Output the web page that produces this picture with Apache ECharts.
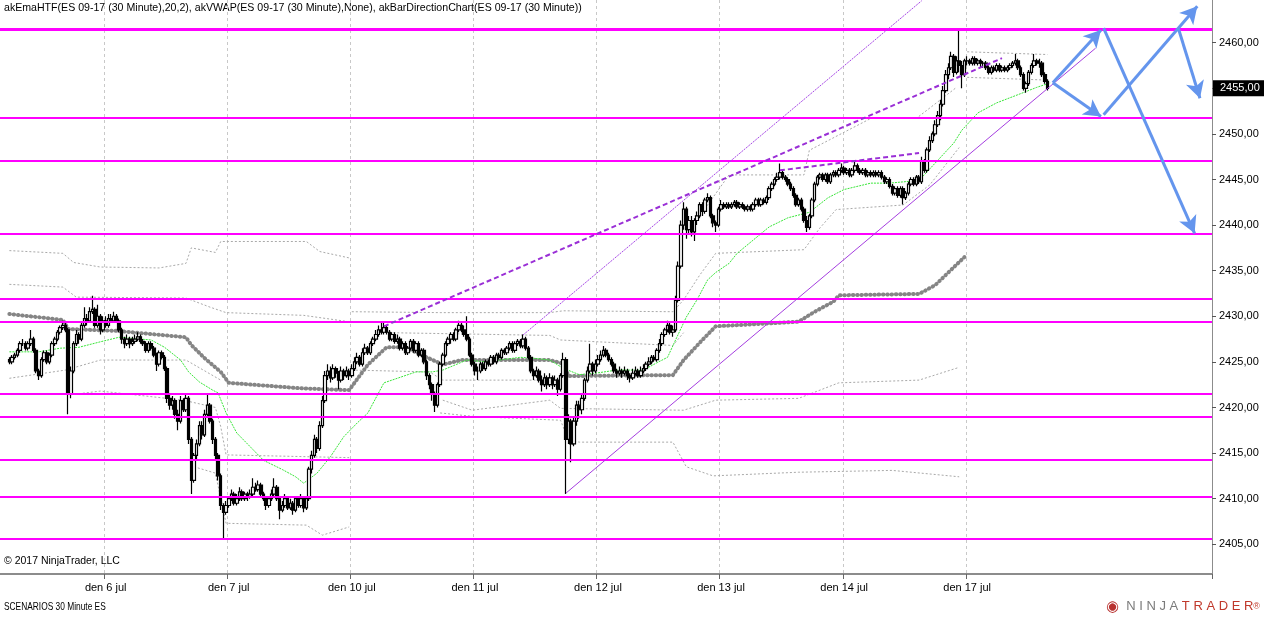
<!DOCTYPE html>
<html><head><meta charset="utf-8">
<script src="https://cdn.jsdelivr.net/npm/echarts/dist/echarts.min.js"></script>
<style>html,body{margin:0;padding:0;background:#fff}#c{width:1264px;height:617px}</style>
</head><body><div id="c"></div>
<script>
const titleText = 'akEmaHTF(ES 09-17 (30 Minute),20,2), akVWAP(ES 09-17 (30 Minute),None), akBarDirectionChart(ES 09-17 (30 Minute))';
const copyrightText = '© 2017 NinjaTrader, LLC';
const footerText = 'SCENARIOS 30 Minute ES';
const dayLabels = ['den 6 jul','den 7 jul','den 10 jul','den 11 jul','den 12 jul','den 13 jul','den 14 jul','den 17 jul'];
const priceTicks = [2405,2410,2415,2420,2425,2430,2435,2440,2445,2450,2455,2460];
const firstOpen = 2425.25;

const c_pre = [2425.0,2425.5,2425.75,2426.25,2427.0,2427.0,2426.5,2427.0,2427.5,2426.25,2424.0,2423.5,2425.25,2426.0,2425.0,2425.75,2427.0,2427.5,2428.25,2428.75,2429.0,2428.5,2421.5,2424.0,2427.0,2428.0,2427.5,2429.0,2429.75,2429.5,2430.5,2430.75,2429.0,2430.0,2428.5,2429.5];
const h_pre = [2425.5,2425.75,2426.0,2426.5,2427.25,2427.5,2427.25,2427.25,2428.5,2427.75,2426.5,2424.25,2425.5,2426.25,2426.25,2426.0,2427.25,2427.75,2428.5,2429.0,2429.5,2429.25,2428.75,2424.5,2427.25,2428.5,2428.25,2429.25,2431.0,2430.25,2431.0,2432.25,2431.0,2431.25,2430.25,2430.0];
const l_pre = [2424.75,2424.75,2425.25,2425.5,2426.0,2426.75,2426.25,2426.25,2426.75,2426.0,2423.75,2423.0,2423.25,2425.0,2424.75,2424.75,2425.5,2426.75,2427.25,2428.0,2428.5,2428.25,2419.25,2421.0,2423.75,2426.75,2427.0,2427.25,2428.75,2429.0,2429.25,2430.25,2428.75,2428.75,2428.0,2428.25];

const c_jul06 = [2429.0,2429.75,2429.5,2430.0,2429.5,2428.5,2427.5,2427.0,2427.5,2427.0,2427.25,2427.5,2427.75,2427.25,2427.0,2426.25,2427.0,2426.5,2425.75,2424.75,2426.0,2425.5,2424.25,2421.0,2420.25,2420.75,2419.25,2418.5,2420.75,2419.75,2421.0,2416.5,2412.0,2414.75,2416.0,2418.0,2417.0,2419.25,2420.25,2418.5,2416.5,2414.75,2412.5,2409.25,2408.5,2409.25];
const h_jul06 = [2430.0,2430.25,2430.25,2430.5,2430.25,2429.75,2428.75,2427.75,2428.0,2427.75,2427.75,2428.0,2428.25,2428.0,2427.5,2427.25,2427.25,2427.25,2426.75,2426.0,2426.25,2426.25,2425.75,2424.5,2421.5,2421.25,2421.0,2419.75,2421.25,2421.0,2421.5,2421.25,2416.75,2415.0,2416.5,2418.5,2418.5,2419.75,2421.5,2420.5,2418.75,2416.75,2415.0,2412.75,2409.5,2409.75];
const l_jul06 = [2428.75,2428.75,2429.25,2429.25,2429.25,2428.25,2427.0,2426.5,2426.75,2426.5,2426.75,2427.0,2427.25,2427.0,2426.75,2426.0,2426.0,2426.25,2425.5,2424.0,2424.5,2425.25,2424.0,2420.5,2419.75,2419.75,2418.75,2417.5,2418.25,2419.5,2419.5,2416.0,2410.5,2411.75,2414.25,2415.75,2416.5,2416.75,2419.0,2418.25,2416.0,2414.25,2412.0,2408.75,2405.5,2408.25];

const c_jul07 = [2410.0,2410.5,2409.5,2410.0,2410.75,2410.0,2410.5,2410.25,2410.5,2411.25,2411.0,2411.5,2410.5,2410.0,2409.25,2410.0,2410.5,2411.25,2410.0,2408.75,2409.25,2410.0,2409.0,2409.5,2408.75,2410.0,2409.25,2410.0,2409.0,2410.0,2413.25,2414.75,2416.5,2415.5,2418.0,2420.75,2423.5,2424.0,2423.25,2424.25,2423.75,2423.0,2424.0,2423.5,2424.0,2423.5];
const h_jul07 = [2410.25,2411.0,2410.75,2410.5,2411.25,2411.0,2410.75,2410.75,2411.0,2412.25,2411.75,2412.0,2411.75,2410.75,2410.25,2410.25,2411.0,2412.25,2411.5,2410.25,2409.75,2410.5,2410.25,2410.0,2409.75,2410.25,2410.25,2410.5,2410.25,2410.25,2413.5,2415.25,2417.0,2416.75,2418.5,2421.25,2424.0,2424.75,2424.5,2424.75,2424.5,2424.0,2424.5,2424.25,2424.5,2424.25];
const l_jul07 = [2409.0,2409.75,2409.25,2409.25,2409.75,2409.75,2409.75,2409.75,2410.0,2410.25,2410.75,2410.75,2410.25,2409.75,2408.75,2409.0,2409.75,2410.25,2409.75,2407.75,2408.5,2409.0,2408.75,2408.75,2408.25,2408.5,2409.0,2409.0,2408.5,2408.75,2409.75,2412.75,2414.5,2415.0,2415.25,2417.75,2420.5,2423.0,2422.75,2423.0,2423.25,2422.0,2422.75,2423.0,2423.25,2423.0];

const c_jul10 = [2424.25,2425.0,2425.5,2424.75,2426.0,2426.5,2426.0,2427.0,2427.5,2428.0,2428.5,2428.25,2428.75,2428.25,2427.5,2428.0,2427.25,2427.5,2426.5,2427.0,2426.0,2426.5,2427.25,2426.25,2427.0,2425.75,2426.25,2425.0,2423.5,2422.5,2421.5,2420.25,2422.5,2424.75,2425.75,2427.0,2427.5,2428.0,2427.5,2428.5,2429.0,2428.5,2428.0,2427.5,2425.75,2424.75];
const h_jul10 = [2424.75,2425.5,2426.0,2425.75,2426.5,2427.0,2426.75,2427.25,2427.75,2428.5,2429.0,2429.25,2429.25,2429.0,2428.5,2428.25,2428.25,2428.0,2427.75,2427.25,2427.25,2426.75,2427.5,2427.5,2427.25,2427.25,2426.5,2426.5,2425.25,2423.75,2422.75,2421.75,2422.75,2425.0,2426.0,2427.25,2427.75,2428.25,2428.25,2428.75,2429.5,2429.25,2429.0,2430.0,2427.75,2426.0];
const l_jul10 = [2423.25,2424.0,2424.75,2424.5,2424.5,2425.75,2425.75,2425.75,2426.75,2427.25,2427.75,2428.0,2428.0,2428.0,2427.25,2427.25,2427.0,2427.0,2426.25,2426.25,2425.75,2425.75,2426.25,2426.0,2426.0,2425.5,2425.5,2424.75,2423.0,2422.0,2420.75,2419.5,2420.0,2422.25,2424.5,2425.5,2426.75,2427.0,2427.25,2427.25,2428.25,2428.25,2427.75,2427.25,2425.5,2424.5];

const c_jul11 = [2424.0,2424.0,2424.75,2424.25,2425.0,2424.75,2425.5,2425.0,2425.75,2425.5,2426.25,2426.0,2426.5,2427.0,2426.25,2427.0,2427.25,2426.75,2427.5,2426.5,2425.5,2424.0,2423.5,2424.0,2423.0,2422.5,2423.25,2422.5,2423.25,2422.5,2423.0,2422.0,2423.5,2425.25,2416.5,2418.5,2416.0,2418.5,2420.25,2419.75,2421.0,2423.0,2424.0,2424.75,2424.0,2424.75];
const h_jul11 = [2425.0,2424.5,2425.0,2425.0,2425.25,2425.25,2425.75,2425.75,2426.0,2426.0,2426.5,2426.5,2426.75,2427.25,2427.25,2427.25,2427.5,2427.5,2428.0,2427.75,2426.75,2425.75,2424.25,2424.5,2424.25,2423.5,2423.75,2423.5,2423.75,2423.5,2423.5,2423.25,2423.75,2426.0,2425.5,2419.25,2418.75,2419.0,2420.75,2420.75,2421.5,2423.25,2424.5,2427.0,2425.0,2425.25];
const l_jul11 = [2423.5,2423.0,2423.75,2424.0,2424.0,2424.5,2424.5,2424.75,2424.75,2425.25,2425.25,2425.75,2425.75,2426.25,2426.0,2426.0,2426.75,2426.5,2426.5,2426.25,2425.25,2423.75,2423.0,2423.25,2422.75,2421.75,2422.25,2422.0,2422.25,2422.0,2422.25,2421.25,2421.75,2423.25,2410.5,2416.0,2414.0,2415.75,2418.0,2418.75,2419.25,2420.75,2422.75,2423.75,2423.5,2423.75];

const c_jul12 = [2425.25,2425.75,2426.25,2425.75,2425.25,2424.75,2424.0,2423.75,2424.0,2423.75,2424.0,2423.5,2423.25,2423.75,2424.0,2423.5,2424.0,2424.25,2424.75,2425.0,2425.5,2425.25,2426.25,2427.0,2428.0,2428.5,2429.0,2428.25,2428.5,2431.75,2435.5,2440.0,2441.75,2439.5,2440.5,2439.25,2440.5,2441.0,2442.25,2441.5,2442.75,2443.0,2441.0,2440.25,2440.0,2441.75];
const h_jul12 = [2425.75,2426.25,2426.75,2426.5,2426.0,2425.5,2425.0,2424.25,2424.5,2424.25,2424.5,2424.25,2423.75,2424.25,2424.5,2424.25,2424.5,2424.75,2425.0,2425.5,2425.75,2425.75,2426.5,2427.5,2428.25,2428.75,2429.5,2429.25,2429.0,2432.25,2436.0,2440.5,2442.5,2442.0,2441.0,2441.0,2440.75,2441.5,2442.5,2442.5,2443.0,2443.5,2443.25,2441.25,2440.5,2442.0];
const l_jul12 = [2424.5,2425.0,2425.5,2425.5,2425.0,2424.5,2423.75,2423.25,2423.5,2423.25,2423.5,2423.0,2422.75,2423.0,2423.5,2423.25,2423.25,2423.75,2424.0,2424.5,2424.75,2425.0,2425.0,2426.0,2426.75,2427.75,2428.25,2428.0,2427.75,2428.25,2431.5,2435.25,2439.5,2438.5,2439.0,2438.75,2438.25,2440.0,2440.75,2441.0,2441.25,2442.5,2440.75,2439.75,2439.25,2439.75];

const c_jul13 = [2442.25,2442.0,2442.25,2442.0,2442.25,2442.5,2442.0,2442.25,2442.0,2441.75,2442.0,2441.75,2442.25,2442.75,2442.25,2442.75,2442.5,2443.0,2444.0,2444.5,2445.0,2445.25,2445.75,2445.25,2445.0,2444.5,2444.0,2443.25,2442.25,2442.75,2441.75,2440.5,2439.75,2441.0,2442.75,2444.5,2445.25,2445.5,2445.0,2445.5,2444.75,2445.5,2445.75,2445.5,2446.0,2446.25];
const h_jul13 = [2442.75,2442.5,2442.5,2442.5,2442.5,2442.75,2442.75,2442.5,2442.5,2442.25,2442.25,2442.25,2442.5,2443.0,2443.0,2443.0,2443.0,2443.25,2444.25,2444.75,2445.25,2445.75,2446.75,2446.0,2445.5,2445.25,2444.75,2444.25,2443.5,2443.0,2443.0,2442.0,2441.0,2441.25,2443.0,2444.75,2445.5,2445.75,2445.75,2445.75,2445.75,2445.75,2446.0,2446.0,2446.25,2446.75];
const l_jul13 = [2441.5,2441.75,2441.75,2441.75,2441.75,2442.0,2441.75,2441.75,2441.75,2441.5,2441.5,2441.5,2441.5,2442.0,2442.0,2442.0,2442.25,2442.25,2442.75,2443.75,2444.25,2444.75,2445.0,2445.0,2444.75,2444.25,2443.75,2443.0,2442.0,2442.0,2441.5,2440.25,2439.25,2439.5,2440.75,2442.5,2444.25,2445.0,2444.75,2444.75,2444.5,2444.5,2445.25,2445.25,2445.25,2445.75];

const c_jul14 = [2445.75,2446.0,2445.5,2446.0,2446.5,2446.0,2445.75,2446.0,2445.5,2445.75,2445.5,2445.75,2445.5,2445.75,2445.25,2444.75,2445.0,2444.25,2443.5,2444.0,2443.25,2444.0,2443.0,2443.5,2444.5,2445.0,2444.5,2445.25,2444.75,2447.0,2446.0,2448.25,2449.25,2450.0,2451.0,2452.0,2453.25,2454.75,2456.5,2457.25,2458.5,2456.75,2458.0,2457.5,2456.5,2458.0];
const h_jul14 = [2446.5,2446.25,2446.25,2446.25,2447.0,2446.75,2446.25,2446.25,2446.25,2446.0,2446.0,2446.0,2446.0,2446.0,2446.0,2445.5,2445.25,2445.25,2444.5,2444.25,2444.25,2444.25,2444.25,2443.75,2444.75,2445.25,2445.25,2445.5,2445.5,2447.5,2447.25,2448.5,2449.75,2450.25,2451.5,2452.5,2453.75,2455.25,2457.0,2457.75,2459.0,2458.75,2458.5,2461.5,2458.0,2458.25];
const l_jul14 = [2445.5,2445.5,2445.25,2445.25,2445.75,2445.75,2445.5,2445.5,2445.25,2445.25,2445.25,2445.25,2445.25,2445.25,2445.0,2444.5,2444.5,2444.0,2443.25,2443.25,2443.0,2443.0,2442.25,2442.75,2443.25,2444.25,2444.25,2444.25,2444.5,2444.5,2445.75,2445.75,2448.0,2449.0,2449.75,2450.75,2451.5,2453.0,2454.5,2456.0,2457.0,2456.25,2456.5,2456.75,2455.0,2456.25];

const c_jul17 = [2458.0,2457.75,2458.25,2457.75,2458.0,2457.75,2457.75,2457.25,2456.75,2457.25,2457.0,2457.5,2457.0,2457.25,2457.0,2457.25,2457.5,2457.75,2458.0,2457.25,2456.5,2455.0,2455.5,2456.75,2457.5,2458.0,2457.75,2457.75,2456.5,2455.75,2455.0];
const h_jul17 = [2458.5,2458.25,2458.5,2458.5,2458.25,2458.25,2458.0,2458.0,2457.5,2457.5,2457.5,2457.75,2457.75,2457.5,2457.5,2457.5,2457.75,2458.0,2458.75,2458.25,2457.5,2456.75,2455.75,2457.0,2457.75,2458.75,2458.25,2458.25,2458.0,2456.75,2456.0];
const l_jul17 = [2457.5,2457.5,2457.5,2457.5,2457.5,2457.25,2457.25,2457.0,2456.5,2456.5,2456.75,2456.75,2456.75,2456.75,2456.75,2456.75,2457.0,2457.25,2457.5,2457.0,2456.25,2454.75,2454.5,2455.25,2456.5,2457.25,2457.5,2457.25,2456.25,2455.5,2454.75];

// indicator traces: [bar index, price]
const emaLine = [[3,2426.1],[14,2426.1],[22,2426.5],[29,2426.6],[37,2427.2],[44,2427.7],[48,2427.6],[56,2427.4],[61,2426.6],[67,2425.2],[70,2423.9],[74,2422.8],[79,2421.9],[81,2421.6],[84,2419.4],[88,2417.2],[93,2415.7],[98,2414.2],[105,2413.2],[110,2412.4],[113,2411.7],[118,2412.8],[123,2414.6],[128,2416.8],[133,2418.3],[137,2419.4],[143,2422.7],[155,2423.9],[161,2423.9],[165,2424.1],[174,2425.2],[181,2425.0],[186,2425.2],[194,2425.5],[199,2425.4],[205,2425.2],[210,2424.3],[216,2423.6],[223,2423.8],[230,2424.1],[240,2424.1],[245,2424.9],[249,2425.5],[252,2427.4],[256,2429.9],[260,2431.8],[264,2434.0],[267,2434.8],[272,2435.8],[275,2436.9],[287,2439.8],[294,2440.8],[302,2441.4],[309,2443.0],[315,2443.9],[325,2444.6],[332,2444.6],[343,2444.9],[350,2447.1],[356,2449.0],[359,2450.4],[365,2452.3],[372,2453.4],[380,2454.3],[387,2455.1],[392,2455.6]];
const htfEma = [[3,2430.25],[23,2429.6],[25,2428.6],[43,2428.4],[69,2427.7],[71,2426.85],[76,2425.4],[82,2423.9],[85,2422.7],[112,2422.1],[130,2421.9],[137,2424.7],[144,2426.6],[151,2426.6],[159,2425.5],[165,2424.7],[172,2425.2],[205,2425.2],[210,2424.8],[212,2423.45],[251,2423.55],[255,2425.2],[262,2427.4],[267,2428.9],[298,2429.4],[304,2430.5],[311,2431.6],[313,2432.3],[343,2432.45],[349,2433.4],[355,2435.1],[360,2436.5]];
const band1 = [[3,2437.2],[23,2436.9],[27,2435.9],[37,2435.4],[59,2435.3],[69,2435.8],[71,2437.5],[80,2437.0],[82,2438.2],[114,2438.2],[119,2437.1],[130,2436.4]];
const band2 = [[3,2433.5],[23,2433.2],[28,2432.1],[69,2432.0],[78,2431.0],[84,2430.4],[113,2430.1],[130,2429.4]];
const band3 = [[3,2423.2],[24,2424.1],[37,2425.2],[69,2425.2],[82,2423.0]];
const band4 = [[26,2421.4],[37,2421.8],[68,2420.8],[80,2420.0],[82,2417.9],[84,2414.8],[130,2414.5]];
const band5 = [[72,2413.5],[80,2412.8],[84,2407.3],[114,2407.1],[120,2406.0],[130,2406.9]];
const band6 = [[131,2430.5],[164,2430.4],[205,2430.4],[210,2430.6],[251,2430.5],[255,2431.8],[261,2434.5],[267,2436.9],[300,2437.3],[306,2439.7],[312,2441.7],[337,2442.2],[347,2444.4],[358,2448.5]];
const band7 = [[145,2428.2],[205,2427.9],[209,2427.4],[251,2426.8],[255,2428.2]];
const band8 = [[131,2424.1],[160,2423.9],[165,2423.0],[205,2423.0]];
const band9 = [[165,2420.8],[176,2419.7],[205,2420.8],[209,2419.9],[255,2419.7],[267,2420.8],[298,2421.0],[313,2422.7],[343,2423.0],[358,2424.4]];
const band10 = [[164,2419.4],[177,2419.0],[209,2418.6],[212,2416.4],[216,2416.2],[251,2416.2],[256,2413.5],[266,2412.5],[298,2412.9],[333,2413.1],[358,2412.4]];
const band11 = [[262,2441.4],[272,2445.5],[300,2445.5],[302,2448.2],[325,2451.7],[342,2451.7],[357,2455.1]];
const band12 = [[361,2459.0],[391,2458.7]];
const band13 = [[361,2456.2],[391,2455.9]];

// drawings
const levels = [2461.45,2451.75,2447.1,2439.0,2431.9,2429.4,2421.5,2419.0,2414.25,2410.2,2405.65];
const channelLow = [[211,2410.6],[409,2459.4]];
const channelHigh = [[195,2427.95],[344,2464.6]];
const dashLong = [[143,2428.9],[374,2458.3]];
const dashShort = [[291,2446.0],[343,2447.9]];
const arrows = [
  [[393,2455.6],[411,2461.4]],
  [[393,2455.6],[411,2451.9]],
  [[412,2452.1],[447,2464.0]],
  [[412,2461.6],[446,2439.1]],
  [[440,2461.5],[448,2453.9]]
];

const LEAD = 3, TOTAL = 453;
const segments = [
  {label:'pre', c:c_pre, h:h_pre, l:l_pre},
  {label:dayLabels[0], c:c_jul06, h:h_jul06, l:l_jul06},
  {label:dayLabels[1], c:c_jul07, h:h_jul07, l:l_jul07},
  {label:dayLabels[2], c:c_jul10, h:h_jul10, l:l_jul10},
  {label:dayLabels[3], c:c_jul11, h:h_jul11, l:l_jul11},
  {label:dayLabels[4], c:c_jul12, h:h_jul12, l:l_jul12},
  {label:dayLabels[5], c:c_jul13, h:h_jul13, l:l_jul13},
  {label:dayLabels[6], c:c_jul14, h:h_jul14, l:l_jul14},
  {label:dayLabels[7], c:c_jul17, h:h_jul17, l:l_jul17}
];
const cats = [];
const candles = [];
for (let k = 0; k < LEAD; k++) cats.push('lead#' + k);
let prev = firstOpen;
segments.forEach(s => {
  s.c.forEach((c, j) => {
    const idx = cats.length;
    cats.push(s.label + '#' + j);
    const o = prev;
    const hi = Math.max(s.h[j], o, c), lo = Math.min(s.l[j], o, c);
    candles.push([idx, o, c, lo, hi]);
    prev = c;
  });
});
while (cats.length < TOTAL) cats.push('pad#' + cats.length);
const lastClose = prev;

const FONT = "'Liberation Sans', Arial, sans-serif";
const isDayStart = (i, v) => v.indexOf('den') === 0 && /#0$/.test(v);
const fmt = v => v.toFixed(2).replace('.', ',');

function bandSeries(d) {
  return {type:'line', data:d, showSymbol:false, silent:true, z:2,
    lineStyle:{color:'#a9a9a9', width:1, type:[2,2]}};
}
const purple = '#a53ee0';
const chart = echarts.init(document.getElementById('c'), null, {renderer:'canvas'});
chart.setOption({
  animation:false,
  backgroundColor:'#ffffff',
  grid:{left:0, top:0, right:52, bottom:43, containLabel:false},
  xAxis:{
    type:'category', data:cats, boundaryGap:true,
    axisLine:{show:true, lineStyle:{color:'#8c8c8c', width:2}},
    axisTick:{show:true, interval:isDayStart, length:5, lineStyle:{color:'#666'}},
    axisLabel:{interval:isDayStart, formatter:v => v.split('#')[0], fontFamily:FONT, fontSize:11, color:'#000', margin:8},
    splitLine:{show:true, interval:isDayStart, lineStyle:{color:'#c8c8c8', width:1, type:[3,3]}}
  },
  yAxis:{
    type:'value', position:'right', min:2401.74, max:2464.68,
    axisLine:{show:true, lineStyle:{color:'#8c8c8c', width:1}},
    axisTick:{show:true, customValues:priceTicks, length:4, lineStyle:{color:'#555'}},
    axisLabel:{customValues:priceTicks, formatter:fmt, fontFamily:FONT, fontSize:11, color:'#000', margin:7},
    splitLine:{show:false}
  },
  series:[
    bandSeries(band1), bandSeries(band2), bandSeries(band3), bandSeries(band4), bandSeries(band5),
    bandSeries(band6), bandSeries(band7), bandSeries(band8), bandSeries(band9), bandSeries(band10),
    bandSeries(band11), bandSeries(band12), bandSeries(band13),
    {type:'line', data:htfEma, showSymbol:false, silent:true, z:2,
      lineStyle:{color:'#858585', width:4, type:[0.5,3.8], cap:'round'}},
    {type:'line', data:emaLine, showSymbol:false, silent:true, z:2,
      lineStyle:{color:'#39e639', width:1, type:[2,1]}},
    {type:'candlestick', data:candles, encode:{x:0, y:[1,2,3,4]}, barWidth:3, z:3,
      itemStyle:{color:'#ffffff', color0:'#000000', borderColor:'#000000', borderColor0:'#000000', borderWidth:1.2}},
    {type:'line', data:[], z:5, silent:true,
      markLine:{silent:true, symbol:['none','none'], animation:false, label:{show:false},
        data: levels.map((v, k) => ({yAxis:v, lineStyle:{color:'#ff00ff', width:k === 0 ? 3 : 2, type:'solid'}}))
      }},
    {type:'line', data:[], z:6, silent:true,
      markLine:{silent:true, symbol:['none','none'], animation:false, label:{show:false},
        data:[
          [{coord:channelLow[0], lineStyle:{color:purple, width:1, type:'solid'}}, {coord:channelLow[1]}],
          [{coord:channelHigh[0], lineStyle:{color:'#a646e6', width:1, type:[2,1]}}, {coord:channelHigh[1]}],
          [{coord:dashLong[0], lineStyle:{color:'#9a2fd6', width:2, type:[5,3]}}, {coord:dashLong[1]}],
          [{coord:dashShort[0], lineStyle:{color:'#9a2fd6', width:2, type:[5,3]}}, {coord:dashShort[1]}]
        ]}},
    {type:'line', data:[], z:7, silent:true,
      markLine:{silent:true, animation:false, label:{show:false}, symbol:['none','arrow'], symbolSize:[14,17],
        data: arrows.map(a => [{coord:a[0], symbol:'none', lineStyle:{color:'#6495ed', width:3, type:'solid'}}, {coord:a[1], symbol:'arrow', symbolSize:[14,17]}])
      }},
    {type:'line', data:[], z:8, silent:true,
      markLine:{silent:true, symbol:['none','none'], animation:false,
        data:[{yAxis:lastClose, lineStyle:{color:'rgba(0,0,0,0)', width:1},
          label:{show:true, position:'end', distance:1, formatter:() => fmt(lastClose),
            backgroundColor:'#000', color:'#fff', fontFamily:FONT, fontSize:11, padding:[3,6,2,7]}}]
      }}
  ],
  graphic:[
    {type:'text', left:4, top:3, silent:true, style:{text:titleText, font:'10.6px ' + FONT, fill:'#000'}},
    {type:'text', left:4, top:556, silent:true, style:{text:copyrightText, font:'10.5px ' + FONT, fill:'#000'}},
    {type:'text', left:4, top:601, silent:true, scaleX:0.76, style:{text:footerText, font:'11px ' + FONT, fill:'#000'}},
    {type:'text', right:4, top:599, silent:true, style:{
      text:'{e|◉}{a|  N I N J A }{b|T R A D E R}{c|®}',
      rich:{
        e:{fontSize:15, fill:'#b8312f', fontFamily:FONT},
        a:{fontSize:13, fill:'#7a7a7a', fontFamily:FONT},
        b:{fontSize:13, fill:'#c0392b', fontFamily:FONT},
        c:{fontSize:9, fill:'#c0392b', fontFamily:FONT}
      }}}
  ]
});
</script></body></html>
